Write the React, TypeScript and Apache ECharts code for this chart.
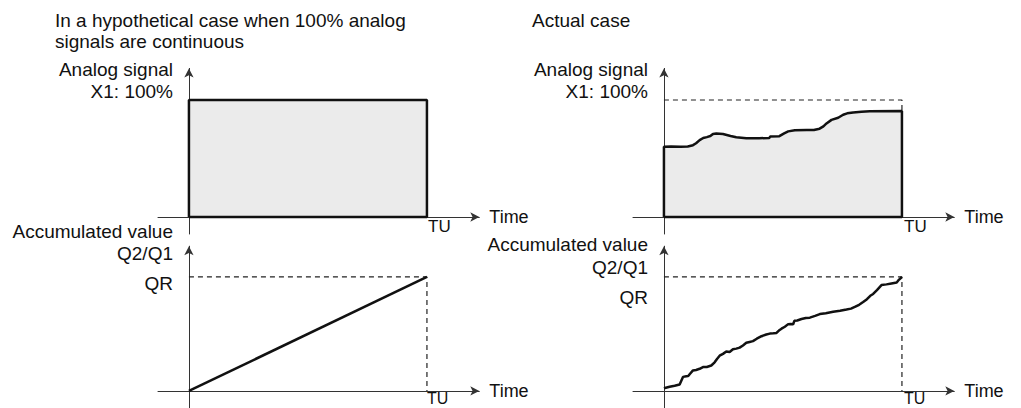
import React, { useEffect, useRef } from "react";
import * as echarts from "echarts";

const FONT = '"Liberation Sans", Arial, Helvetica, sans-serif';
const INK = "#111111";
const AXIS = "#333333";
const FILL = "#ebebeb";

// Ideal case: 100% analog signal over the whole period TU
const idealTime = [0, 0, 100, 100, 0];
const idealValue = [0, 100, 100, 0, 0];

// Ideal accumulated value (linear up to QR at TU)
const idealAccTime = [0, 100];
const idealAccValue = [0, 100];

// Actual analog signal (percent of X1)
const signalTime = [0, 3, 7, 10, 12.2, 13.5, 15, 16.5, 18, 19.5, 20.6, 22, 24.8, 28, 30.4, 34.6, 40, 44.3, 44.7, 48.5, 50.5, 52.2, 55, 60, 63, 65.4, 67, 68.3, 70.4, 73.2, 75.3, 77, 79.5, 83, 86.5, 100];
const signalValue = [60, 60.2, 60, 60.3, 61.4, 63, 65.7, 67.5, 68.3, 69.2, 71, 71.4, 70.9, 69.3, 68.2, 67.3, 67.3, 67.6, 68.9, 69.1, 71.5, 73.2, 74.2, 74.4, 74.3, 75.5, 77.5, 80, 83, 84.8, 87.4, 88.6, 89.4, 90, 90.3, 90.6];

// Actual accumulated value (percent of QR)
const accTime = [0, 2.4, 4.5, 6.6, 7.3, 8, 9.4, 10.2, 10.8, 12.2, 13.5, 15, 16.4, 18, 19.9, 21.3, 22.3, 23.4, 24.8, 26.2, 27.6, 29, 30.4, 31.8, 33.2, 34.6, 36, 37.4, 39, 41, 43, 44.5, 46, 47.3, 48.3, 49.4, 50.8, 52.2, 53.2, 54.3, 54.8, 56, 57.8, 59.6, 61.3, 63.5, 65.5, 68, 71.1, 74, 76.7, 78.6, 80.2, 82, 83.7, 85.3, 86.7, 87.9, 89.5, 91.4, 93.5, 95.6, 97.8, 98.7, 100];
const accValue = [2.3, 3.7, 4.6, 5.7, 9, 12.3, 12.9, 13, 14.6, 18, 18.4, 19.4, 20.9, 21, 22.3, 25.1, 28, 30.9, 32.5, 34.6, 34.2, 36.6, 37.1, 38, 39.9, 42.3, 43, 43.7, 45.8, 48, 49.5, 50.3, 50.6, 50.9, 53, 54.6, 56.3, 58.6, 58.7, 58.5, 61.5, 61.8, 63.1, 64, 64.3, 65.8, 67.4, 68.2, 69.4, 70.3, 71.4, 72.2, 73.7, 75.6, 78, 80.5, 83.5, 85.1, 88.5, 92.9, 93.5, 94.3, 95.1, 97.5, 100];

const zip = (xs: number[], ys: number[]) => xs.map((x, i) => [x, ys[i]]);

const X_MIN = -13;
const X_MAX = 122;

export default function App() {
  const ref = useRef<HTMLDivElement>(null);

  useEffect(() => {
    if (!ref.current) return;
    const chart = echarts.init(ref.current, null, { renderer: "svg" });

    const grids = [
      { left: 158, top: 68.4, width: 321.3, height: 165.6 },
      { left: 633, top: 68.4, width: 321.3, height: 165.6 },
      { left: 158, top: 246.2, width: 321.3, height: 161.9 },
      { left: 633, top: 246.2, width: 321.3, height: 161.9 },
    ];

    const xAxes = grids.map((_, i) => ({
      type: "value",
      gridIndex: i,
      min: X_MIN,
      max: X_MAX,
      name: "Time",
      nameLocation: "end",
      nameGap: 10,
      nameTextStyle: { fontFamily: FONT, fontSize: 18, color: INK, align: "left", verticalAlign: "middle" },
      axisLine: { show: true, onZero: true, symbol: ["none", "arrow"], symbolSize: [7, 9], lineStyle: { color: AXIS, width: 1 } },
      axisTick: { show: false },
      axisLabel: { show: false },
      splitLine: { show: false },
    }));

    const yAxes = grids.map((_, i) => ({
      type: "value",
      gridIndex: i,
      min: i < 2 ? -14.5 : -15,
      max: 127,
      axisLine: { show: true, onZero: true, symbol: ["none", "arrow"], symbolSize: [7, 9], lineStyle: { color: AXIS, width: 1 } },
      axisTick: { show: false },
      axisLabel: { show: false },
      splitLine: { show: false },
    }));

    const solid = { color: INK, width: 2.5 };
    const dashed = { color: "#222", width: 1.2, type: [5, 4] };
    const base = { type: "line", showSymbol: false, silent: true, animation: false };

    const series = [
      { ...base, xAxisIndex: 0, yAxisIndex: 0, data: zip(idealTime, idealValue), lineStyle: solid, areaStyle: { color: FILL, opacity: 1 }, z: 3 },
      { ...base, xAxisIndex: 1, yAxisIndex: 1, data: [[0, 0], ...zip(signalTime, signalValue), [100, 0], [0, 0]], lineStyle: solid, areaStyle: { color: FILL, opacity: 1 }, z: 3 },
      { ...base, xAxisIndex: 1, yAxisIndex: 1, data: [[0, 100], [100, 100], [100, signalValue[signalValue.length - 1]]], lineStyle: dashed, z: 2 },
      { ...base, xAxisIndex: 2, yAxisIndex: 2, data: [[0, 100], [100, 100], [100, 0]], lineStyle: dashed, z: 2 },
      { ...base, xAxisIndex: 2, yAxisIndex: 2, data: zip(idealAccTime, idealAccValue), lineStyle: solid, z: 3 },
      { ...base, xAxisIndex: 3, yAxisIndex: 3, data: [[0, 100], [100, 100], [100, 0]], lineStyle: dashed, z: 2 },
      { ...base, xAxisIndex: 3, yAxisIndex: 3, data: zip(accTime, accValue), lineStyle: solid, z: 3 },
    ];

    const txt = (text: string, x: number, y: number, align: string, size = 19) => ({
      type: "text",
      x,
      y,
      silent: true,
      style: {
        text,
        fill: INK,
        font: `${size}px ${FONT}`,
        fontSize: size,
        fontFamily: FONT,
        textAlign: align,
        align,
        textVerticalAlign: "middle",
        verticalAlign: "middle",
      },
    });

    const graphic = [
      txt("In a hypothetical case when 100% analog", 55, 20, "left"),
      txt("signals are continuous", 55, 41, "left"),
      txt("Actual case", 532, 20, "left"),
      txt("Analog signal", 173, 69.5, "right"),
      txt("X1: 100%", 173, 91, "right"),
      txt("Analog signal", 648, 69.5, "right"),
      txt("X1: 100%", 648, 91, "right"),
      txt("Accumulated value", 173, 231, "right"),
      txt("Q2/Q1", 173, 253, "right"),
      txt("QR", 173, 283, "right"),
      txt("Accumulated value", 648, 244, "right"),
      txt("Q2/Q1", 648, 267, "right"),
      txt("QR", 648, 297, "right"),
      txt("TU", 428, 226, "left", 17),
      txt("TU", 904, 226, "left", 17),
      txt("TU", 427, 398, "left", 16),
      txt("TU", 904, 398, "left", 16),
    ];

    chart.setOption({
      animation: false,
      backgroundColor: "#ffffff",
      grid: grids,
      xAxis: xAxes,
      yAxis: yAxes,
      series,
      graphic,
    } as any);

    return () => chart.dispose();
  }, []);

  return (
    <div
      ref={ref}
      style={{ position: "absolute", left: 0, top: 0, width: 1021, height: 408 }}
    />
  );
}
